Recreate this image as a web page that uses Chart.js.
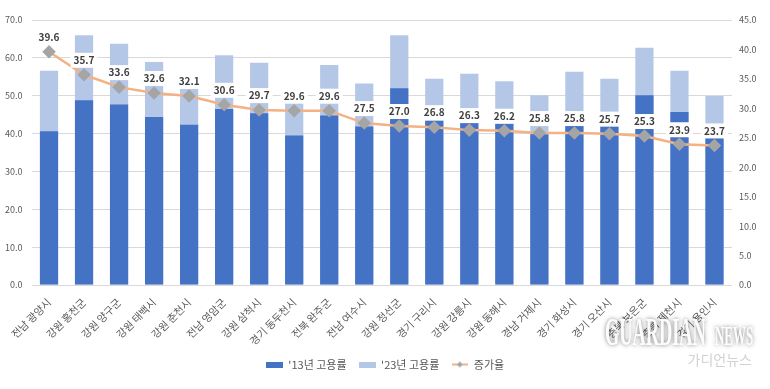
<!DOCTYPE html>
<html>
<head>
<meta charset="utf-8">
<script src="https://cdn.jsdelivr.net/npm/chart.js@4.4.1/dist/chart.umd.min.js"></script>
<style>
  html, body { margin: 0; padding: 0; background: #fff; }
</style>
</head>
<body>
<canvas id="chart" width="770" height="389"></canvas>
<script>
const regions = ['전남 광양시', '강원 홍천군', '강원 양구군', '강원 태백시', '강원 춘천시', '전남 영암군', '강원 삼척시', '경기 동두천시', '전북 완주군', '전남 여수시',
  '강원 정선군', '경기 구리시', '강원 강릉시', '강원 동해시', '경남 거제시', '경기 화성시', '경기 오산시', '충북 보은군', '충북 제천시', '경기 용인시'];
const rate13 = [40.6, 48.8, 47.7, 44.4, 42.3, 46.5, 45.4, 39.5, 44.8, 41.9, 52.0, 43.3, 44.2, 42.6, 39.8, 44.8, 43.4, 50.1, 45.7, 40.3];
const rate23 = [56.6, 66.0, 63.7, 58.9, 52.3, 60.7, 58.7, 51.2, 58.1, 53.2, 66.0, 54.5, 55.8, 53.8, 50.1, 56.3, 54.5, 62.7, 56.6, 49.9];
const growth = [39.6, 35.7, 33.6, 32.6, 32.1, 30.6, 29.7, 29.6, 29.6, 27.5, 27.0, 26.8, 26.3, 26.2, 25.8, 25.8, 25.7, 25.3, 23.9, 23.7];
const leftTicks = [0, 70, 10];
const rightTicks = [0, 45, 5];

const FONT = "'Noto Sans CJK KR', 'Noto Sans', sans-serif";
const DARK = '#4472C4';
const LIGHT = '#B4C7E7';
const LINE = '#F4B183';
const MARK = '#A5A5A5';

function swatch(w, h, draw) {
  const c = document.createElement('canvas');
  c.width = w; c.height = h;
  draw(c.getContext('2d'));
  return c;
}
const darkBox = swatch(17, 6, g => { g.fillStyle = DARK; g.fillRect(0, 0, 17, 6); });
const lightBox = swatch(17, 6, g => { g.fillStyle = LIGHT; g.fillRect(0, 0, 17, 6); });
const lineMark = swatch(16, 8, g => {
  g.strokeStyle = LINE; g.lineWidth = 2;
  g.beginPath(); g.moveTo(0, 4); g.lineTo(16, 4); g.stroke();
  g.fillStyle = MARK;
  g.beginPath(); g.moveTo(8, 1); g.lineTo(11, 4); g.lineTo(8, 7); g.lineTo(5, 4); g.closePath(); g.fill();
});

// white boxed labels above the line points
const valueLabels = {
  id: 'valueLabels',
  afterDatasetsDraw(chart) {
    const meta = chart.getDatasetMeta(2);
    const ctx = chart.ctx;
    ctx.save();
    ctx.font = 'bold 10px ' + FONT;
    ctx.textAlign = 'center';
    ctx.textBaseline = 'middle';
    meta.data.forEach((pt, i) => {
      const txt = growth[i].toFixed(1);
      const w = Math.max(ctx.measureText(txt).width + 6, 20);
      const y = pt.y - 14.5;
      ctx.fillStyle = '#fff';
      ctx.fillRect(pt.x - w / 2, y - 7.5, w, 15);
      ctx.fillStyle = '#404040';
      ctx.fillText(txt, pt.x, y);
    });
    ctx.restore();
  },
  afterDraw(chart) {
    // watermark
    const ctx = chart.ctx;
    ctx.save();
    ctx.textAlign = 'left';
    ctx.textBaseline = 'alphabetic';
    ctx.shadowColor = 'rgba(0,0,0,0.55)';
    ctx.shadowBlur = 4;
    ctx.fillStyle = 'rgba(255,255,255,0.95)';
    ctx.save();
    ctx.translate(605, 345);
    ctx.scale(0.47, 1);
    ctx.font = 'bold 39px "Liberation Serif", serif';
    ctx.fillText('GUARDIAN', 0, 0);
    ctx.restore();
    ctx.save();
    ctx.translate(715, 345);
    ctx.scale(0.48, 1);
    ctx.font = 'bold 27px "Liberation Serif", serif';
    ctx.fillText('NEWS', 0, 0);
    ctx.restore();
    ctx.shadowBlur = 0;
    ctx.fillStyle = 'rgba(205,205,205,0.9)';
    ctx.textAlign = 'right';
    ctx.font = '14px ' + FONT;
    ctx.fillText('가디언뉴스', 752, 365);
    ctx.restore();
  }
};

new Chart(document.getElementById('chart'), {
  type: 'bar',
  data: {
    labels: regions,
    datasets: [
      {
        label: "'13년 고용률",
        data: rate13,
        backgroundColor: DARK,
        grouped: false,
        order: 1,
        yAxisID: 'y'
      },
      {
        label: "'23년 고용률",
        data: rate23,
        backgroundColor: LIGHT,
        grouped: false,
        order: 2,
        yAxisID: 'y'
      },
      {
        type: 'line',
        label: '증가율',
        data: growth,
        borderColor: LINE,
        borderWidth: 2.5,
        pointStyle: 'rectRot',
        pointRadius: 5,
        pointBackgroundColor: MARK,
        pointBorderColor: MARK,
        order: 0,
        yAxisID: 'y1'
      }
    ]
  },
  options: {
    responsive: false,
    animation: false,
    maintainAspectRatio: false,
    categoryPercentage: 1,
    barPercentage: 0.52,
    layout: { padding: { top: 20, bottom: 9, left: 0, right: 0 } },
    plugins: {
      tooltip: { enabled: false },
      legend: {
        position: 'bottom',
        labels: {
          usePointStyle: true,
          pointStyleWidth: 17,
          boxHeight: 8,
          padding: 12,
          color: '#595959',
          font: { family: FONT, size: 11 },
          sort: (a, b) => a.datasetIndex - b.datasetIndex,
          generateLabels(chart) {
            const styles = [darkBox, lightBox, lineMark];
            return chart.data.datasets.map((ds, i) => ({
              text: ds.label,
              pointStyle: styles[i],
              fontColor: '#595959',
              datasetIndex: i,
              hidden: false,
              lineWidth: 0
            }));
          }
        }
      }
    },
    scales: {
      x: {
        grid: { display: false },
        border: { display: false },
        ticks: {
          autoSkip: false,
          maxRotation: 45,
          minRotation: 45,
          color: '#595959',
          font: { family: FONT, size: 10.5 }
        },
        afterFit(scale) { scale.height = 62; }
      },
      y: {
        position: 'left',
        min: leftTicks[0],
        max: leftTicks[1],
        grid: { color: '#D9D9D9', drawTicks: false },
        border: { display: false },
        ticks: {
          stepSize: leftTicks[2],
          padding: 9,
          color: '#595959',
          font: { family: FONT, size: 9 },
          callback: v => v.toFixed(1)
        },
        afterFit(scale) { scale.width = 31.5; }
      },
      y1: {
        position: 'right',
        min: rightTicks[0],
        max: rightTicks[1],
        grid: { display: false, drawTicks: false },
        border: { display: false },
        ticks: {
          stepSize: rightTicks[2],
          padding: 7,
          color: '#595959',
          font: { family: FONT, size: 9 },
          callback: v => v.toFixed(1)
        },
        afterFit(scale) { scale.width = 38; }
      }
    }
  },
  plugins: [valueLabels]
});
</script>
</body>
</html>
